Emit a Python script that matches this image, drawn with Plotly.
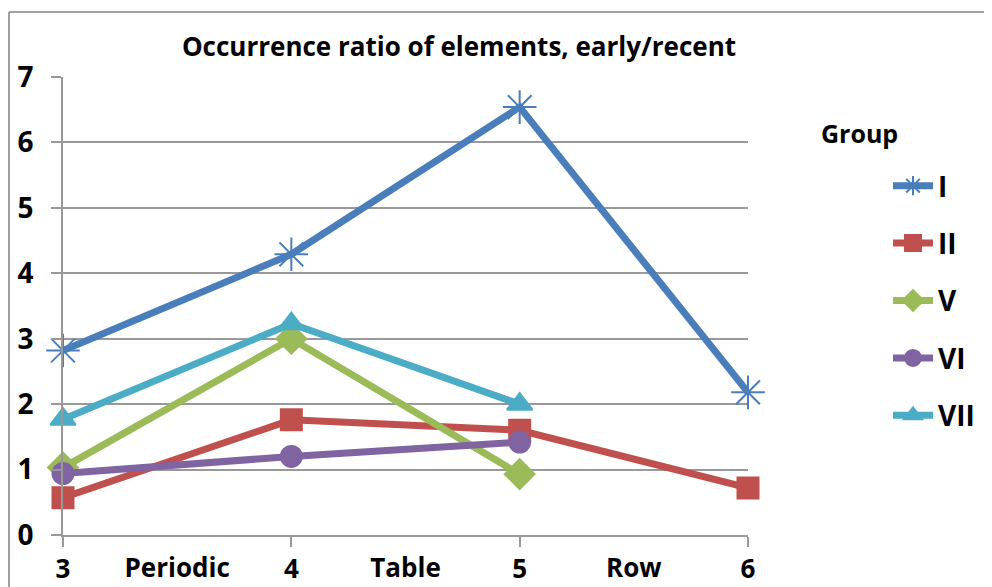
import plotly.graph_objects as go

periods = [3, 4, 5, 6]
group_names = ["I", "II", "V", "VI", "VII"]
vals_I = [2.82, 4.29, 6.54, 2.18]
vals_II = [0.57, 1.76, 1.60, 0.72]
vals_V = [1.03, 3.00, 0.93, None]
vals_VI = [0.94, 1.20, 1.42, None]
vals_VII = [1.77, 3.23, 2.00, None]
between_vals = [3.5, 4.5, 5.5]
between_text = ["Periodic", "Table", "Row"]
y_ticks = [0, 1, 2, 3, 4, 5, 6, 7]

series = [vals_I, vals_II, vals_V, vals_VI, vals_VII]
colors = ["#4A7EBB", "#C0504D", "#9BBB59", "#8064A2", "#4BACC6"]
symbols = ["asterisk-open", "square", "diamond", "circle", "triangle-up"]
sizes = [28, 21, 23, 21, 22]

FONT = "Open Sans, Arial, sans-serif"

# the page body has an 8px margin; figure is sized/placed to compensate
OFF = 8
W, H = 984, 579
L, T = 63 - OFF, 77 - OFF
R = W - (748 - OFF)
B = H - (535 - OFF)
PW, PH = W - L - R, H - T - B

fig = go.Figure()
for name, vals, c, s, sz in zip(group_names, series, colors, symbols, sizes):
    xs = [p for p, v in zip(periods, vals) if v is not None]
    ys = [v for v in vals if v is not None]
    fig.add_trace(go.Scatter(
        x=xs, y=ys, name=f"<b>{name}</b>", mode="lines+markers",
        line=dict(color=c, width=7),
        marker=dict(symbol=s, size=sz, color=c, line=dict(color=c, width=2)),
        cliponaxis=False, legendgroup=name,
    ))

fig.add_trace(go.Scatter(x=between_vals, y=[None, None, None], xaxis="x2",
                         showlegend=False, hoverinfo="skip"))

fig.update_layout(
    width=W, height=H,
    margin=dict(l=L, r=R, t=T, b=B, autoexpand=False),
    paper_bgcolor="white", plot_bgcolor="white",
    font=dict(family=FONT, size=22, color="black"),
    title=dict(text="<b>Occurrence ratio of elements, early/recent</b>",
               x=(459 - OFF) / W, xanchor="center", y=1 - (47 - OFF) / H, yanchor="middle",
               font=dict(size=26)),
    xaxis=dict(range=[3, 6], tickvals=periods, ticktext=[f"<b>{p}</b>" for p in periods],
               ticks="outside", ticklen=10, tickwidth=2, tickcolor="#999999",
               showline=True, linecolor="#999999", linewidth=2,
               showgrid=False, zeroline=False, tickfont=dict(size=26)),
    xaxis2=dict(range=[3, 6], overlaying="x", side="bottom", matches="x",
                tickvals=between_vals, ticktext=[f"<b>{t}</b>" for t in between_text],
                ticks="outside", ticklen=10, tickcolor="rgba(0,0,0,0)",
                showline=False, showgrid=False, zeroline=False,
                tickfont=dict(size=26)),
    yaxis=dict(range=[0, 7], tickvals=y_ticks, ticktext=[f"<b>{v}</b>" for v in y_ticks],
               ticks="outside", ticklen=10, tickwidth=2, tickcolor="#999999",
               showline=True, linecolor="#999999", linewidth=2,
               showgrid=True, gridcolor="#999999", gridwidth=2, zeroline=False,
               tickfont=dict(size=28), ticklabelstandoff=12),
    legend=dict(xref="container", yref="container", x=(888 - OFF) / W, y=1 - (161 - OFF) / H,
                xanchor="left", yanchor="top", tracegroupgap=18, maxheight=560,
                itemwidth=40, font=dict(size=28), bgcolor="rgba(0,0,0,0)"),
    showlegend=True,
    annotations=[dict(text="<b>Group</b>", xref="paper", yref="paper",
                      x=(859 - L - OFF) / PW, y=1 - (133 - T - OFF) / PH,
                      xanchor="center", yanchor="middle", showarrow=False,
                      font=dict(size=25))],
    shapes=[
        dict(type="line", xref="paper", yref="paper",
             x0=(9 - OFF - L) / PW, x1=(W - L) / PW,
             y0=1 + (T - (12 - OFF)) / PH, y1=1 + (T - (12 - OFF)) / PH,
             line=dict(color="#A0A0A0", width=2)),
        dict(type="line", xref="paper", yref="paper",
             x0=(9 - OFF - L) / PW, x1=(9 - OFF - L) / PW,
             y0=1 + (T - (12 - OFF)) / PH, y1=-B / PH,
             line=dict(color="#A0A0A0", width=2)),
    ],
)

fig.write_html("out.html")
